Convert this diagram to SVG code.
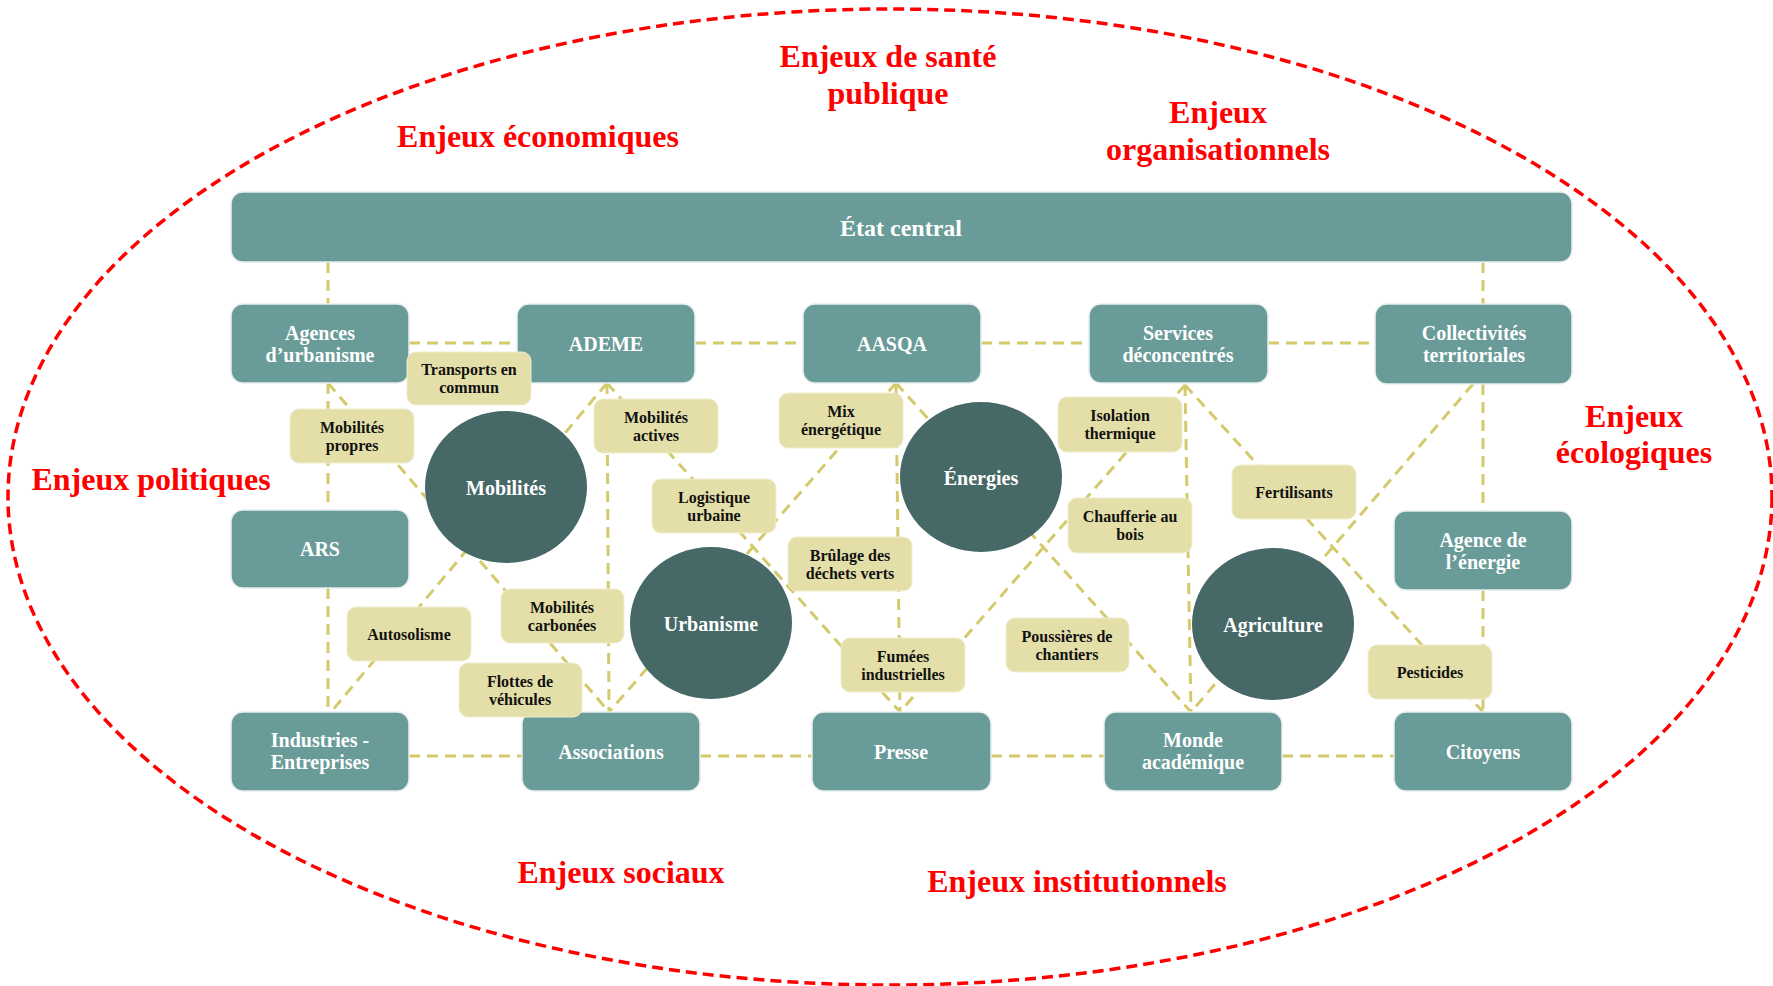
<svg xmlns="http://www.w3.org/2000/svg" width="1773" height="986" viewBox="0 0 1773 986">
<style>
.bg{fill:#ffffff}
.frame{fill:none;stroke:#ff0000;stroke-width:3.5;stroke-dasharray:11 6}
.conn line{stroke:#D4CA6C;stroke-width:3;stroke-dasharray:11 7;fill:none}
.box{fill:#699B98;stroke:#E6EFEE;stroke-width:1.5}
.hub{fill:#466866}
.tag{fill:#E4DFA8;stroke:#F0EDCF;stroke-width:1}
.bt{font-family:"Liberation Serif","DejaVu Serif",serif;font-weight:bold;font-size:20px;fill:#ffffff;text-anchor:middle}
.tt{font-family:"Liberation Serif","DejaVu Serif",serif;font-weight:bold;font-size:16px;fill:#111111;text-anchor:middle}
.enj{font-family:"Liberation Serif","DejaVu Serif",serif;font-weight:bold;font-size:32px;fill:#ff0000;text-anchor:middle}
</style>
<rect class="bg" x="0" y="0" width="1773" height="986"/>
<ellipse class="frame" cx="890" cy="497" rx="882" ry="488"/>

<g id="enjeux">
<text class="enj" x="888" y="67">Enjeux de santé</text>
<text class="enj" x="888" y="104">publique</text>
<text class="enj" x="538" y="147">Enjeux économiques</text>
<text class="enj" x="1218" y="123">Enjeux</text>
<text class="enj" x="1218" y="160">organisationnels</text>
<text class="enj" x="151" y="490">Enjeux politiques</text>
<text class="enj" x="1634" y="427">Enjeux</text>
<text class="enj" x="1634" y="463">écologiques</text>
<text class="enj" x="621" y="883">Enjeux sociaux</text>
<text class="enj" x="1077" y="892">Enjeux institutionnels</text>
</g>

<g id="connectors" class="conn">
<line x1="328" y1="262" x2="328" y2="304"/>
<line x1="1483" y1="262" x2="1483" y2="304"/>
<line x1="328" y1="383" x2="328" y2="510"/>
<line x1="328" y1="588" x2="328" y2="712"/>
<line x1="1483" y1="384" x2="1483" y2="511"/>
<line x1="1483" y1="590" x2="1483" y2="712"/>
<line x1="409" y1="343" x2="517" y2="343"/>
<line x1="695" y1="343" x2="803" y2="343"/>
<line x1="981" y1="343" x2="1089" y2="343"/>
<line x1="1268" y1="343" x2="1375" y2="343"/>
<line x1="409" y1="756" x2="522" y2="756"/>
<line x1="700" y1="756" x2="812" y2="756"/>
<line x1="991" y1="756" x2="1104" y2="756"/>
<line x1="1282" y1="756" x2="1394" y2="756"/>
<line x1="328" y1="383" x2="609" y2="712"/>
<line x1="607" y1="383" x2="331" y2="712"/>
<line x1="607" y1="383" x2="609" y2="712"/>
<line x1="607" y1="383" x2="900" y2="712"/>
<line x1="896" y1="383" x2="609" y2="712"/>
<line x1="896" y1="383" x2="900" y2="712"/>
<line x1="896" y1="383" x2="1191" y2="712"/>
<line x1="1185" y1="385" x2="900" y2="712"/>
<line x1="1185" y1="385" x2="1191" y2="712"/>
<line x1="1185" y1="385" x2="1483" y2="712"/>
<line x1="1473" y1="384" x2="1191" y2="712"/>
</g>

<g id="etat-central"><rect class="box" x="231" y="192" width="1341" height="70" rx="12"/><text class="bt" x="901" y="236" style="font-size:24px">État central</text></g>
<g id="agences-urbanisme"><rect class="box" x="231" y="304" width="178" height="79" rx="12"/><text class="bt" x="320" y="340">Agences</text><text class="bt" x="320" y="362">d’urbanisme</text></g>
<g id="ademe"><rect class="box" x="517" y="304" width="178" height="79" rx="12"/><text class="bt" x="606" y="351">ADEME</text></g>
<g id="aasqa"><rect class="box" x="803" y="304" width="178" height="79" rx="12"/><text class="bt" x="892" y="351">AASQA</text></g>
<g id="services-deconcentres"><rect class="box" x="1089" y="304" width="179" height="79" rx="12"/><text class="bt" x="1178" y="340">Services</text><text class="bt" x="1178" y="362">déconcentrés</text></g>
<g id="collectivites-territoriales"><rect class="box" x="1375" y="304" width="197" height="80" rx="12"/><text class="bt" x="1474" y="340">Collectivités</text><text class="bt" x="1474" y="362">territoriales</text></g>
<g id="ars"><rect class="box" x="231" y="510" width="178" height="78" rx="12"/><text class="bt" x="320" y="556">ARS</text></g>
<g id="agence-energie"><rect class="box" x="1394" y="511" width="178" height="79" rx="12"/><text class="bt" x="1483" y="547">Agence de</text><text class="bt" x="1483" y="569">l’énergie</text></g>
<g id="industries-entreprises"><rect class="box" x="231" y="712" width="178" height="79" rx="12"/><text class="bt" x="320" y="747">Industries -</text><text class="bt" x="320" y="769">Entreprises</text></g>
<g id="associations"><rect class="box" x="522" y="712" width="178" height="79" rx="12"/><text class="bt" x="611" y="759">Associations</text></g>
<g id="presse"><rect class="box" x="812" y="712" width="179" height="79" rx="12"/><text class="bt" x="901" y="759">Presse</text></g>
<g id="monde-academique"><rect class="box" x="1104" y="712" width="178" height="79" rx="12"/><text class="bt" x="1193" y="747">Monde</text><text class="bt" x="1193" y="769">académique</text></g>
<g id="citoyens"><rect class="box" x="1394" y="712" width="178" height="79" rx="12"/><text class="bt" x="1483" y="759">Citoyens</text></g>

<g id="mobilites"><ellipse class="hub" cx="506" cy="487" rx="81" ry="76"/><text class="bt" x="506" y="495">Mobilités</text></g>
<g id="urbanisme"><ellipse class="hub" cx="711" cy="623" rx="81" ry="76"/><text class="bt" x="711" y="631">Urbanisme</text></g>
<g id="energies"><ellipse class="hub" cx="981" cy="477" rx="81" ry="75"/><text class="bt" x="981" y="485">Énergies</text></g>
<g id="agriculture"><ellipse class="hub" cx="1273" cy="624" rx="81" ry="76"/><text class="bt" x="1273" y="632">Agriculture</text></g>

<g id="transports-en-commun"><rect class="tag" x="407" y="352" width="124" height="53" rx="9"/><text class="tt" x="469" y="375">Transports en</text><text class="tt" x="469" y="393">commun</text></g>
<g id="mobilites-propres"><rect class="tag" x="290" y="409" width="124" height="54" rx="9"/><text class="tt" x="352" y="433">Mobilités</text><text class="tt" x="352" y="451">propres</text></g>
<g id="mobilites-actives"><rect class="tag" x="594" y="399" width="124" height="54" rx="9"/><text class="tt" x="656" y="423">Mobilités</text><text class="tt" x="656" y="441">actives</text></g>
<g id="logistique-urbaine"><rect class="tag" x="652" y="479" width="124" height="54" rx="9"/><text class="tt" x="714" y="503">Logistique</text><text class="tt" x="714" y="521">urbaine</text></g>
<g id="autosolisme"><rect class="tag" x="347" y="607" width="124" height="54" rx="9"/><text class="tt" x="409" y="640">Autosolisme</text></g>
<g id="mobilites-carbonees"><rect class="tag" x="501" y="589" width="123" height="54" rx="9"/><text class="tt" x="562" y="613">Mobilités</text><text class="tt" x="562" y="631">carbonées</text></g>
<g id="flottes-vehicules"><rect class="tag" x="459" y="663" width="123" height="54" rx="9"/><text class="tt" x="520" y="687">Flottes de</text><text class="tt" x="520" y="705">véhicules</text></g>
<g id="mix-energetique"><rect class="tag" x="779" y="393" width="124" height="55" rx="9"/><text class="tt" x="841" y="417">Mix</text><text class="tt" x="841" y="435">énergétique</text></g>
<g id="brulage-dechets-verts"><rect class="tag" x="788" y="537" width="124" height="54" rx="9"/><text class="tt" x="850" y="561">Brûlage des</text><text class="tt" x="850" y="579">déchets verts</text></g>
<g id="fumees-industrielles"><rect class="tag" x="841" y="638" width="124" height="54" rx="9"/><text class="tt" x="903" y="662">Fumées</text><text class="tt" x="903" y="680">industrielles</text></g>
<g id="isolation-thermique"><rect class="tag" x="1058" y="397" width="124" height="55" rx="9"/><text class="tt" x="1120" y="421">Isolation</text><text class="tt" x="1120" y="439">thermique</text></g>
<g id="chaufferie-bois"><rect class="tag" x="1068" y="498" width="124" height="55" rx="9"/><text class="tt" x="1130" y="522">Chaufferie au</text><text class="tt" x="1130" y="540">bois</text></g>
<g id="fertilisants"><rect class="tag" x="1232" y="465" width="124" height="54" rx="9"/><text class="tt" x="1294" y="498">Fertilisants</text></g>
<g id="poussieres-chantiers"><rect class="tag" x="1006" y="618" width="123" height="54" rx="9"/><text class="tt" x="1067" y="642">Poussières de</text><text class="tt" x="1067" y="660">chantiers</text></g>
<g id="pesticides"><rect class="tag" x="1368" y="645" width="124" height="54" rx="9"/><text class="tt" x="1430" y="678">Pesticides</text></g>
</svg>
